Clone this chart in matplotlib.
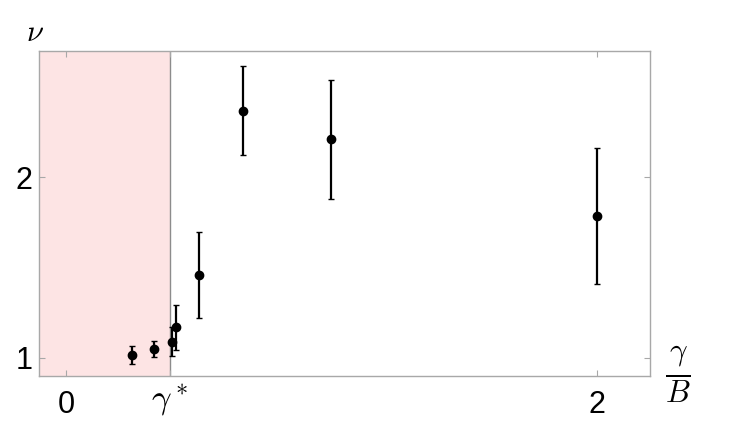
import numpy as np
import matplotlib.pyplot as plt

plt.rcParams['font.family'] = ['Liberation Sans', 'DejaVu Sans']
plt.rcParams['mathtext.fontset'] = 'cm'

# data
gamma_star = 0.39
x_vals = [0.25, 0.33, 0.40, 0.415, 0.50, 0.667, 1.0, 2.0]
nu_vals = [1.017, 1.05, 1.09, 1.17, 1.46, 2.37, 2.21, 1.785]
nu_err = [0.05, 0.045, 0.08, 0.125, 0.24, 0.245, 0.33, 0.375]

xticks = [0, gamma_star, 2]
xtick_labels = ['0', '', '2']
yticks = [1, 2]

fig = plt.figure(figsize=(7.48, 4.21), dpi=100)
ax = fig.add_axes([0.0528, 0.107, 0.816, 0.772])

# region below gamma*
ax.axvspan(-0.1, gamma_star, color='#fde4e4', lw=0, zorder=0)
ax.axvline(gamma_star, color='#8c8c8c', lw=1.0, zorder=1)

ax.errorbar(x_vals, nu_vals, yerr=nu_err, fmt='o', color='black',
            ms=6, elinewidth=1.6, capsize=2.0, capthick=1.0, zorder=3)

ax.set_xlim(-0.1, 2.2)
ax.set_ylim(0.9, 2.7)
ax.set_xticks(xticks)
ax.set_xticklabels(xtick_labels)
ax.set_yticks(yticks)

for s in ax.spines.values():
    s.set_color('#a8a8a8')
    s.set_linewidth(1.0)
ax.tick_params(direction='in', length=4, color='#a8a8a8', labelsize=22,
               top=True, right=True, pad=10)
ax.tick_params(axis='y', pad=5)

# gamma* label under the shaded edge
ax.text(gamma_star, -0.02, r'$\gamma^*$', transform=ax.get_xaxis_transform(),
        fontsize=25, ha='center', va='top')

fig.text(35 / 748, 1 - 33 / 421, r'$\nu$', fontsize=22, ha='center', va='center')
fig.text(678 / 748, 1 - 375 / 421, r'$\frac{\gamma}{B}$', fontsize=32,
         ha='center', va='center')

fig.savefig('out.png', dpi=100)
